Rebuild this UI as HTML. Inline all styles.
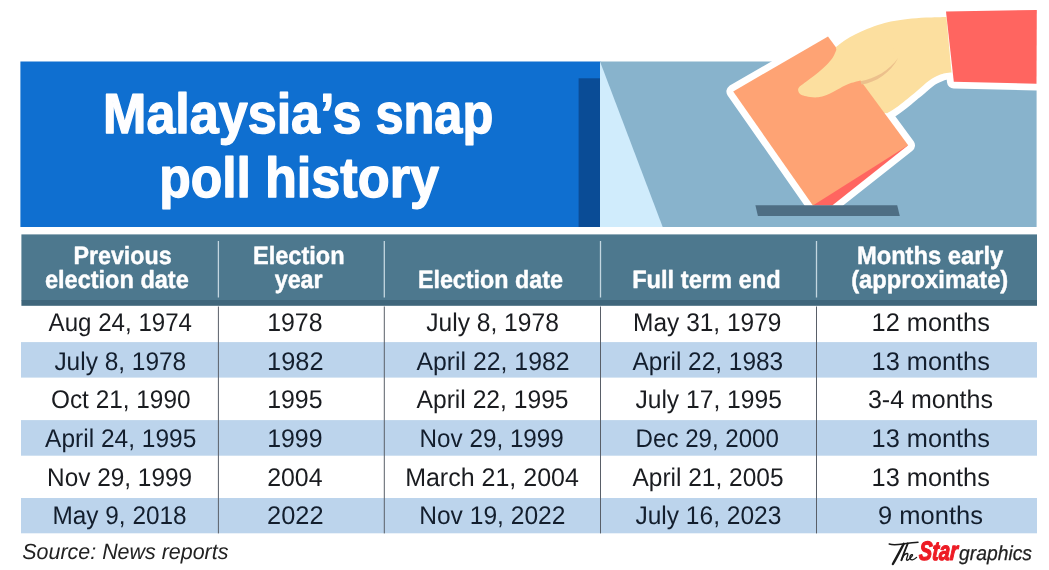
<!DOCTYPE html>
<html><head><meta charset="utf-8"><title>Malaysia's snap poll history</title>
<style>
html,body{margin:0;padding:0;background:#fff;}
body{width:1049px;height:570px;overflow:hidden;font-family:"Liberation Sans",sans-serif;}
svg{display:block;position:absolute;left:0;top:0;}
text{font-family:"Liberation Sans",sans-serif;white-space:pre;}
</style></head><body>
<svg width="1049" height="570" viewBox="0 0 1049 570">
<rect width="1049" height="570" fill="#ffffff"/>
<!-- banner -->
<rect x="20.4" y="61.5" width="580" height="165.5" fill="#0f6fd0"/>
<rect x="600" y="61.5" width="436.6" height="165.5" fill="#88b3cc"/>
<rect x="578.6" y="78.3" width="21.4" height="148.7" fill="#0a4c96"/>
<polygon points="600,61.5 662.7,227 600,227" fill="#d0ecfc"/>
<!-- illustration outline (white) -->
<g fill="#ffffff" stroke="#ffffff" stroke-width="13.6" stroke-linejoin="round" stroke-linecap="round">
  <polygon points="733.2,91.5 828,36.4 908.2,145.3 832.2,205.5 812.9,205.5"/>
  <path d="M836.7,46.6 C838.1,45.5 842.0,42.3 845.0,40.3 C848.0,38.3 851.3,36.5 855.0,34.6 C858.7,32.7 862.6,30.8 867.0,29.0 C871.4,27.2 876.9,25.3 881.4,24.0 C885.9,22.7 889.6,21.8 894.0,21.0 C898.4,20.2 902.4,19.6 907.7,19.0 C913.0,18.4 919.5,18.0 926.0,17.6 C932.5,17.2 943.0,17.0 946.4,16.9 L951.5,72.5 C950.4,72.6 947.0,72.8 945.0,73.2 C943.0,73.6 941.6,74.1 939.8,74.8 C938.0,75.5 935.9,76.5 934.0,77.5 C932.1,78.5 930.7,79.4 928.6,81.0 C926.5,82.6 923.8,85.0 921.5,87.0 C919.2,89.0 917.0,90.9 914.6,92.9 C912.2,94.9 909.6,97.1 907.0,99.2 C904.4,101.3 901.4,103.7 899.1,105.5 C896.8,107.3 895.0,108.5 893.0,109.8 C891.0,111.1 888.2,112.6 887.2,113.2 L859.8,81 Z"/>
  <polygon points="946,11.4 1036.8,10 1036.5,83.7 953.8,81.8"/>
</g>
<!-- hand body -->
<path d="M836.7,46.6 C838.1,45.5 842.0,42.3 845.0,40.3 C848.0,38.3 851.3,36.5 855.0,34.6 C858.7,32.7 862.6,30.8 867.0,29.0 C871.4,27.2 876.9,25.3 881.4,24.0 C885.9,22.7 889.6,21.8 894.0,21.0 C898.4,20.2 902.4,19.6 907.7,19.0 C913.0,18.4 919.5,18.0 926.0,17.6 C932.5,17.2 943.0,17.0 946.4,16.9 L951.5,72.5 C950.4,72.6 947.0,72.8 945.0,73.2 C943.0,73.6 941.6,74.1 939.8,74.8 C938.0,75.5 935.9,76.5 934.0,77.5 C932.1,78.5 930.7,79.4 928.6,81.0 C926.5,82.6 923.8,85.0 921.5,87.0 C919.2,89.0 917.0,90.9 914.6,92.9 C912.2,94.9 909.6,97.1 907.0,99.2 C904.4,101.3 901.4,103.7 899.1,105.5 C896.8,107.3 895.0,108.5 893.0,109.8 C891.0,111.1 888.2,112.6 887.2,113.2 L870,112 L820,70 Z" fill="#fcdf9f"/>
<!-- red sheet -->
<polygon points="908.2,145.3 832.2,205.5 812.9,205.5 850,150" fill="#ff6560"/>
<!-- orange sheet -->
<polygon points="733.2,91.5 828,36.4 908.2,145.3 812.9,205.5" fill="#fea374"/>
<!-- thumb -->
<path d="M835.8,47.2 C835.9,47.6 836.3,48.5 836.3,49.3 C836.3,50.1 836.3,50.3 835.6,51.8 C834.9,53.3 833.9,56.0 832.3,58.3 C830.7,60.6 828.4,63.1 826.0,65.5 C823.6,67.8 820.9,70.2 818.2,72.4 C815.5,74.6 812.6,76.8 810.0,78.8 C807.4,80.8 804.6,82.9 802.8,84.3 C801.0,85.7 800.1,86.0 799.3,87.0 C798.5,88.0 798.0,88.9 798.1,90.0 C798.2,91.1 798.7,92.5 799.6,93.4 C800.5,94.3 801.6,95.0 803.3,95.6 C805.0,96.2 807.5,96.8 810.0,97.1 C812.5,97.4 815.5,97.6 818.2,97.3 C820.9,97.0 823.5,96.2 826.0,95.3 C828.5,94.4 830.6,93.1 833.0,91.9 C835.4,90.7 837.7,89.2 840.4,87.9 C843.1,86.6 845.8,85.0 849.0,83.8 C852.2,82.6 857.8,81.3 859.6,80.8 L859.6,80.8 L900,60 L880,25 Z" fill="#fcdf9f"/>
<!-- crease -->
<path d="M860.5,81.2 C875,78.5 889,71 898.3,57.8 C890.5,73 876,82.5 861.5,84.6 Z" fill="#ecc08c"/>
<!-- sleeve -->
<polygon points="946,11.4 1036.8,10 1036.5,83.7 953.8,81.8" fill="#ff6560"/>
<!-- slot -->
<polygon points="755.4,205.3 897.2,205.3 899.8,215.9 757.9,215.9" fill="#4e6e84"/>

<!-- table header -->
<rect x="21.4" y="234.4" width="1015.6" height="66" fill="#4d788e"/>
<rect x="21.4" y="300" width="1015.6" height="5.8" fill="#3f667b"/>
<!-- row bands -->
<rect x="21" y="342.1" width="1016" height="35.5" fill="#bcd4ec"/>
<rect x="21" y="420.1" width="1016" height="35.6" fill="#bcd4ec"/>
<rect x="21" y="498" width="1016" height="35.3" fill="#bcd4ec"/>
<!-- separators -->
<g stroke="#c3d6e0" stroke-width="1.3">
<line x1="218.4" y1="241" x2="218.4" y2="297.5"/>
<line x1="384.3" y1="241" x2="384.3" y2="297.5"/>
<line x1="600.5" y1="241" x2="600.5" y2="297.5"/>
<line x1="816.5" y1="241" x2="816.5" y2="297.5"/>
</g>
<g stroke="#595f68" stroke-width="1">
<line x1="218.4" y1="306.5" x2="218.4" y2="533.4"/>
<line x1="384.3" y1="306.5" x2="384.3" y2="533.4"/>
<line x1="600.5" y1="306.5" x2="600.5" y2="533.4"/>
<line x1="816.5" y1="306.5" x2="816.5" y2="533.4"/>
</g>
<!-- The (script) -->
<g fill="none" stroke="#1a1a1a" stroke-linecap="round" stroke-linejoin="round">
<path d="M889.2,544 C893,545.2 897,544.8 903,543.9 C909,543 914,542.3 918,542.2" stroke-width="1.5"/>
<path d="M903.8,543.8 C900,551 896.5,558 892.9,564" stroke-width="2.4"/>
<path d="M907.7,543.6 C905,550 903,555.5 901.4,560.2" stroke-width="1.9"/>
<path d="M901.4,560.2 C903,556 905.5,553.3 907.3,553.5 C908.8,553.7 907,557 906.5,559.3 C906.3,560.5 907.5,560.5 908.6,559.5 C910,558.2 912.5,556.6 912.6,555.2 C912.6,554 910.8,554.5 910,556.5 C909.3,558.6 910.5,560 912.5,559.8 C914,559.6 915.5,558.5 916.6,557.4" stroke-width="1.3"/>
</g>

<g text-rendering="geometricPrecision" style="opacity:0.999">
<text transform="translate(103.03 133.10) scale(0.9246 1)" font-size="56.3" fill="#fff" stroke="#fff" stroke-width="1.4" stroke-linejoin="round" font-weight="bold">Malaysia’s</text>
<text transform="translate(375.50 133.10) scale(0.8961 1)" font-size="56.3" fill="#fff" stroke="#fff" stroke-width="1.4" stroke-linejoin="round" font-weight="bold">snap</text>
<text transform="translate(159.15 197.20) scale(0.9163 1)" font-size="56.3" fill="#fff" stroke="#fff" stroke-width="1.4" stroke-linejoin="round" font-weight="bold">poll</text>
<text transform="translate(264.92 197.20) scale(0.9274 1)" font-size="56.3" fill="#fff" stroke="#fff" stroke-width="1.4" stroke-linejoin="round" font-weight="bold">history</text>
<text transform="translate(73.39 263.80) scale(0.9301 1)" font-size="25.0" fill="#fff" stroke="#fff" stroke-width="0.45" stroke-linejoin="round" font-weight="bold">Previous</text>
<text transform="translate(44.93 288.30) scale(0.9414 1)" font-size="25.0" fill="#fff" stroke="#fff" stroke-width="0.45" stroke-linejoin="round" font-weight="bold">election date</text>
<text transform="translate(252.98 263.80) scale(0.9419 1)" font-size="25.0" fill="#fff" stroke="#fff" stroke-width="0.45" stroke-linejoin="round" font-weight="bold">Election</text>
<text transform="translate(274.73 288.30) scale(0.9292 1)" font-size="25.0" fill="#fff" stroke="#fff" stroke-width="0.45" stroke-linejoin="round" font-weight="bold">year</text>
<text transform="translate(417.89 288.30) scale(0.9319 1)" font-size="25.0" fill="#fff" stroke="#fff" stroke-width="0.45" stroke-linejoin="round" font-weight="bold">Election date</text>
<text transform="translate(632.18 288.30) scale(0.9455 1)" font-size="25.0" fill="#fff" stroke="#fff" stroke-width="0.45" stroke-linejoin="round" font-weight="bold">Full term end</text>
<text transform="translate(856.88 263.80) scale(0.9488 1)" font-size="25.0" fill="#fff" stroke="#fff" stroke-width="0.45" stroke-linejoin="round" font-weight="bold">Months early</text>
<text transform="translate(851.17 288.30) scale(0.9504 1)" font-size="25.0" fill="#fff" stroke="#fff" stroke-width="0.45" stroke-linejoin="round" font-weight="bold">(approximate)</text>
<text transform="translate(48.60 331.00) scale(0.9418 1)" font-size="25.6" fill="#1a1c20">Aug 24, 1974</text>
<text transform="translate(54.40 369.80) scale(0.9551 1)" font-size="25.6" fill="#131e2d">July 8, 1978</text>
<text transform="translate(50.95 408.40) scale(0.9524 1)" font-size="25.6" fill="#1a1c20">Oct 21, 1990</text>
<text transform="translate(45.10 447.00) scale(0.9575 1)" font-size="25.6" fill="#131e2d">April 24, 1995</text>
<text transform="translate(47.10 485.70) scale(0.9519 1)" font-size="25.6" fill="#1a1c20">Nov 29, 1999</text>
<text transform="translate(52.50 524.40) scale(0.9522 1)" font-size="25.6" fill="#131e2d">May 9, 2018</text>
<text transform="translate(267.13 331.00) scale(0.9730 1)" font-size="25.6" fill="#1a1c20">1978</text>
<text transform="translate(267.11 369.80) scale(0.9908 1)" font-size="25.6" fill="#131e2d">1982</text>
<text transform="translate(267.13 408.40) scale(0.9730 1)" font-size="25.6" fill="#1a1c20">1995</text>
<text transform="translate(267.13 447.00) scale(0.9730 1)" font-size="25.6" fill="#131e2d">1999</text>
<text transform="translate(267.13 485.70) scale(0.9730 1)" font-size="25.6" fill="#1a1c20">2004</text>
<text transform="translate(267.11 524.40) scale(0.9908 1)" font-size="25.6" fill="#131e2d">2022</text>
<text transform="translate(426.20 331.00) scale(0.9609 1)" font-size="25.6" fill="#1a1c20">July 8, 1978</text>
<text transform="translate(416.50 369.80) scale(0.9687 1)" font-size="25.6" fill="#131e2d">April 22, 1982</text>
<text transform="translate(416.50 408.40) scale(0.9626 1)" font-size="25.6" fill="#1a1c20">April 22, 1995</text>
<text transform="translate(419.61 447.00) scale(0.9472 1)" font-size="25.6" fill="#131e2d">Nov 29, 1999</text>
<text transform="translate(405.15 485.70) scale(0.9766 1)" font-size="25.6" fill="#1a1c20">March 21, 2004</text>
<text transform="translate(419.18 524.40) scale(0.9603 1)" font-size="25.6" fill="#131e2d">Nov 19, 2022</text>
<text transform="translate(633.09 331.00) scale(0.9565 1)" font-size="25.6" fill="#1a1c20">May 31, 1979</text>
<text transform="translate(632.50 369.80) scale(0.9537 1)" font-size="25.6" fill="#131e2d">April 22, 1983</text>
<text transform="translate(635.40 408.40) scale(0.9617 1)" font-size="25.6" fill="#1a1c20">July 17, 1995</text>
<text transform="translate(635.62 447.00) scale(0.9412 1)" font-size="25.6" fill="#131e2d">Dec 29, 2000</text>
<text transform="translate(632.50 485.70) scale(0.9562 1)" font-size="25.6" fill="#1a1c20">April 21, 2005</text>
<text transform="translate(635.40 524.40) scale(0.9591 1)" font-size="25.6" fill="#131e2d">July 16, 2023</text>
<text transform="translate(871.61 331.00) scale(0.9889 1)" font-size="25.6" fill="#1a1c20">12 months</text>
<text transform="translate(871.61 369.80) scale(0.9889 1)" font-size="25.6" fill="#131e2d">13 months</text>
<text transform="translate(867.90 408.40) scale(0.9769 1)" font-size="25.6" fill="#1a1c20">3-4 months</text>
<text transform="translate(871.61 447.00) scale(0.9889 1)" font-size="25.6" fill="#131e2d">13 months</text>
<text transform="translate(871.61 485.70) scale(0.9889 1)" font-size="25.6" fill="#1a1c20">13 months</text>
<text transform="translate(878.00 524.40) scale(0.9964 1)" font-size="25.6" fill="#131e2d">9 months</text>
<text transform="translate(22.30 559.40) scale(0.9744 1)" font-size="22.0" fill="#222" font-style="italic">Source: News reports</text>
<text transform="translate(918.60 560.30) skewX(-4) scale(0.7455 1)" font-size="26.6" fill="#ed1b24" stroke="#ed1b24" stroke-width="1.2" stroke-linejoin="round" font-weight="bold" font-style="italic">Star</text>
<text transform="translate(959.12 559.80) scale(0.9508 1)" font-size="20.3" fill="#222" stroke="#222" stroke-width="0.25" stroke-linejoin="round" font-style="italic">graphics</text>
</g>
</svg>
</body></html>
